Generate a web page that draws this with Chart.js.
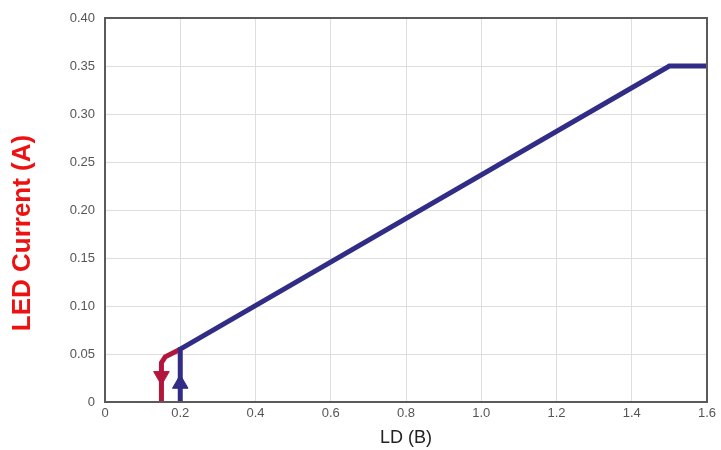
<!DOCTYPE html>
<html>
<head>
<meta charset="UTF-8">
<script src="https://cdn.jsdelivr.net/npm/chart.js"></script>
<style>
    body, html { margin: 0; padding: 0; background: #fff; }
    #chart { display: block; }
</style>
</head>
<body>
<canvas id="chart" width="721" height="450"></canvas>
<script>
    // rising path (blue) and falling path (red)
    const blueX = [0.2, 0.2, 1.5, 1.6];
    const blueY = [0, 0.055, 0.35, 0.35];
    const redX = [0.15, 0.15, 0.16, 0.2];
    const redY = [0, 0.041, 0.047, 0.055];
    // direction arrows
    const redArrow = [{ x: 0.15, y: 0.027 }];
    const blueArrow = [{ x: 0.2, y: 0.019 }];

    const xTicks = [0, 0.2, 0.4, 0.6, 0.8, 1.0, 1.2, 1.4, 1.6];
    const yTicks = [0, 0.05, 0.10, 0.15, 0.20, 0.25, 0.30, 0.35, 0.40];
    const yTitle = 'LED Current (A)';

    const toPts = (xs, ys) => xs.map((x, i) => ({ x: x, y: ys[i] }));

    // frame round the plot and the red y-axis title
    const frame = {
        id: 'frame',
        afterDatasetsDraw(chart) {
            const a = chart.chartArea;
            const c = chart.ctx;
            c.save();
            c.strokeStyle = '#5a5a5a';
            c.lineWidth = 2;
            c.strokeRect(a.left, a.top, a.right - a.left, a.bottom - a.top);
            c.translate(23, 233);
            c.rotate(-Math.PI / 2);
            c.fillStyle = '#ee1111';
            c.font = 'bold 26px "Liberation Sans"';
            c.textAlign = 'center';
            c.textBaseline = 'middle';
            c.fillText(yTitle, 0, 0);
            c.restore();
        }
    };

    new Chart(document.getElementById('chart'), {
        type: 'scatter',
        data: {
            datasets: [
                {
                    data: toPts(blueX, blueY),
                    showLine: true,
                    borderColor: '#312c86',
                    borderWidth: 5,
                    pointRadius: 0,
                    order: 1
                },
                {
                    data: toPts(redX, redY),
                    showLine: true,
                    borderColor: '#b3163c',
                    borderWidth: 5,
                    pointRadius: 0,
                    order: 2
                },
                {
                    data: redArrow,
                    pointStyle: 'triangle',
                    rotation: 180,
                    pointRadius: 9,
                    backgroundColor: '#b3163c',
                    borderColor: '#b3163c',
                    order: 0
                },
                {
                    data: blueArrow,
                    pointStyle: 'triangle',
                    pointRadius: 9,
                    backgroundColor: '#312c86',
                    borderColor: '#312c86',
                    order: 0
                }
            ]
        },
        options: {
            responsive: false,
            animation: false,
            layout: { padding: { top: 18, right: 14, left: 0, bottom: 0 } },
            plugins: { legend: { display: false }, tooltip: { enabled: false } },
            scales: {
                x: {
                    type: 'linear', min: 0, max: 1.6,
                    afterBuildTicks: s => { s.ticks = xTicks.map(v => ({ value: v })); },
                    afterFit: s => { s.height = 48; },
                    grid: { color: '#dedede', drawTicks: false },
                    border: { display: false },
                    ticks: {
                        color: '#555', padding: 4,
                        font: { family: 'Liberation Sans', size: 13 },
                        callback: v => v === 0 ? '0' : v.toFixed(1)
                    },
                    title: {
                        display: true, text: 'LD (B)', color: '#222',
                        font: { family: 'Liberation Sans', size: 18 },
                        padding: { top: 0, bottom: 1 }
                    }
                },
                y: {
                    min: 0, max: 0.4,
                    afterBuildTicks: s => { s.ticks = yTicks.map(v => ({ value: v })); },
                    afterFit: s => { s.width = 105; },
                    grid: { color: '#dedede', drawTicks: false },
                    border: { display: false },
                    ticks: {
                        color: '#555', padding: 10,
                        font: { family: 'Liberation Sans', size: 13 },
                        callback: v => v === 0 ? '0' : v.toFixed(2)
                    }
                }
            }
        },
        plugins: [frame]
    });
</script>
</body>
</html>
